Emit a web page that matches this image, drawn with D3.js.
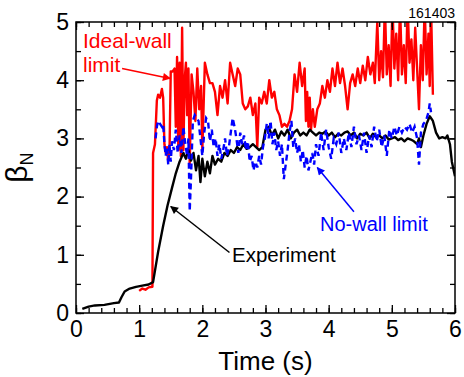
<!DOCTYPE html>
<html>
<head>
<meta charset="utf-8">
<script src="https://cdn.jsdelivr.net/npm/d3@7"></script>
<style>
  body { margin: 0; background: #fff; }
  svg { font-family: "Liberation Sans", Arial, Helvetica, sans-serif; }
</style>
</head>
<body>
<div id="chart"></div>
<script>
// ---- data ----
const expT = [0.10,0.20,0.30,0.45,0.60,0.68,0.72,0.77,0.85,0.95,1.05,1.15,1.22,1.30,1.38,1.45,1.52,1.58,1.64,1.70,1.74,1.78,1.82,1.86,1.90,1.94,1.97,2.00,2.04,2.08,2.12,2.16,2.20,2.25,2.30,2.35,2.40,2.45,2.50,2.55,2.60,2.65,2.70,2.75,2.80,2.85,2.90,2.95,3.00,3.05,3.10,3.15,3.20,3.25,3.30,3.35,3.40,3.45,3.50,3.55,3.60,3.65,3.70,3.75,3.80,3.85,3.90,3.95,4.00,4.05,4.10,4.15,4.20,4.25,4.30,4.35,4.40,4.45,4.50,4.55,4.60,4.65,4.70,4.75,4.80,4.85,4.90,4.95,5.00,5.05,5.10,5.15,5.20,5.25,5.30,5.35,5.40,5.43,5.46,5.50,5.55,5.60,5.65,5.70,5.75,5.80,5.85,5.88,5.92,5.95,5.98,6.00]
const expB = [0.07,0.11,0.13,0.14,0.17,0.18,0.27,0.37,0.42,0.45,0.47,0.49,0.53,1.05,1.50,1.85,2.15,2.40,2.60,2.75,2.65,2.80,2.62,2.75,2.45,2.70,2.25,2.65,2.35,2.60,2.40,2.70,2.55,2.65,2.60,2.75,2.70,2.80,2.75,2.85,2.80,2.90,2.82,2.85,2.90,2.85,2.80,2.85,3.15,3.20,3.05,3.15,3.00,3.12,3.05,3.15,3.00,3.10,3.15,3.05,3.10,3.05,3.15,3.10,3.05,3.10,3.08,3.12,3.05,3.10,3.02,3.08,3.05,3.10,3.12,3.05,3.10,3.00,3.08,3.05,3.10,3.00,3.08,3.02,3.05,3.00,3.05,2.98,3.00,3.02,2.97,3.00,2.95,3.00,2.98,2.95,2.90,3.00,2.85,3.05,3.25,3.38,3.30,3.10,3.00,3.02,3.00,3.05,2.90,2.60,2.45,2.35]

const idealT = [1.00,1.05,1.10,1.15,1.21,1.22,1.25,1.28,1.30,1.33,1.36,1.38,1.40,1.42,1.44,1.46,1.48,1.50,1.53,1.56,1.58,1.60,1.62,1.64,1.66,1.68,1.70,1.72,1.74,1.76,1.78,1.80,1.83,1.86,1.89,1.92,1.95,1.98,2.00,2.04,2.08,2.12,2.16,2.20,2.24,2.28,2.32,2.36,2.40,2.44,2.48,2.52,2.56,2.60,2.64,2.68,2.72,2.76,2.80,2.84,2.87,2.90,2.94,2.98,3.02,3.06,3.10,3.14,3.18,3.22,3.26,3.30,3.34,3.38,3.42,3.46,3.50,3.54,3.58,3.62,3.64,3.66,3.68,3.70,3.72,3.75,3.78,3.82,3.86,3.90,3.94,3.98,4.02,4.06,4.10,4.14,4.18,4.22,4.26,4.30,4.34,4.38,4.42,4.46,4.50,4.54,4.58,4.62,4.66,4.70,4.73,4.77,4.80,4.83,4.86,4.89,4.92,4.95,4.98,5.01,5.04,5.07,5.10,5.13,5.16,5.19,5.22,5.25,5.28,5.31,5.34,5.37,5.40,5.43,5.46,5.49,5.52,5.55,5.58,5.60,5.62,5.65]
const idealB = [0.38,0.42,0.40,0.44,0.45,2.75,2.90,3.65,3.75,3.70,3.85,3.70,2.90,2.75,2.85,2.60,2.75,4.15,4.15,4.20,3.20,4.40,2.80,4.30,2.70,4.90,2.80,4.00,4.30,3.40,4.20,2.55,4.10,3.80,3.30,4.20,3.50,3.90,2.80,4.30,4.10,3.95,3.95,3.80,3.40,3.90,3.70,4.00,3.60,4.30,4.10,3.90,4.20,4.10,3.60,3.50,3.55,3.70,3.40,3.60,2.85,3.70,3.60,3.80,3.60,4.00,3.70,3.80,3.50,3.40,3.20,3.25,3.20,3.30,3.50,4.10,3.80,4.30,3.90,4.20,3.30,3.80,3.20,3.70,3.15,3.50,3.20,3.50,3.60,3.90,3.70,4.00,3.80,4.20,3.90,4.30,3.95,4.20,3.90,3.50,3.95,4.10,3.90,4.20,3.95,4.25,4.00,4.40,4.10,4.30,3.95,5.00,4.00,4.50,4.05,5.30,4.10,4.60,3.90,5.30,4.20,4.80,4.00,5.30,4.10,4.60,3.95,5.30,4.30,4.70,4.00,4.90,4.20,3.50,4.60,4.00,5.30,4.10,4.80,3.90,5.30,3.75]

const noWallT = [1.26,1.28,1.30,1.33,1.36,1.38,1.40,1.42,1.44,1.46,1.48,1.50,1.52,1.55,1.58,1.61,1.64,1.67,1.70,1.73,1.76,1.78,1.80,1.82,1.85,1.88,1.91,1.94,1.97,2.00,2.03,2.06,2.09,2.12,2.15,2.18,2.21,2.24,2.27,2.30,2.33,2.36,2.39,2.42,2.45,2.48,2.51,2.54,2.57,2.60,2.63,2.66,2.69,2.72,2.75,2.78,2.81,2.84,2.87,2.90,2.93,2.96,2.99,3.02,3.05,3.08,3.11,3.14,3.17,3.20,3.23,3.26,3.29,3.32,3.35,3.38,3.41,3.44,3.47,3.50,3.53,3.56,3.59,3.62,3.65,3.68,3.71,3.74,3.77,3.80,3.84,3.88,3.92,3.96,4.00,4.04,4.08,4.12,4.16,4.20,4.24,4.28,4.32,4.36,4.40,4.44,4.48,4.52,4.56,4.60,4.64,4.68,4.72,4.76,4.80,4.84,4.88,4.92,4.96,5.00,5.04,5.08,5.12,5.16,5.20,5.24,5.28,5.32,5.36,5.40,5.43,5.46,5.50,5.54,5.58,5.60,5.62]
const noWallB = [3.00,3.20,3.30,3.25,3.20,3.25,2.90,2.70,2.85,2.55,2.90,2.60,2.95,2.80,3.15,2.75,3.05,2.75,3.20,2.90,2.70,3.00,1.75,2.30,3.30,3.40,3.35,3.30,3.00,2.70,3.10,3.35,3.30,2.95,3.15,2.85,3.00,2.70,2.90,2.65,2.80,3.00,2.70,2.85,3.10,3.35,3.20,3.00,2.75,3.10,2.90,3.05,2.80,2.95,2.60,2.70,2.45,2.60,2.50,2.70,2.55,2.85,3.00,3.25,3.00,3.30,2.90,3.10,2.80,2.95,2.70,2.90,2.30,2.55,2.80,3.10,3.30,2.85,3.00,2.75,2.90,2.60,2.80,2.50,2.70,2.45,2.60,2.75,2.55,2.90,2.70,3.10,2.80,3.15,2.85,2.65,3.00,2.90,3.10,2.75,3.00,2.80,3.10,2.85,3.20,2.90,3.05,2.80,3.10,2.75,3.05,2.85,3.20,2.95,3.15,2.85,3.05,2.70,3.15,3.00,3.20,3.05,3.20,3.10,3.20,3.15,3.25,3.10,3.20,3.00,2.55,3.10,3.25,3.30,3.45,3.60,3.45]

const xTicks = [0, 1, 2, 3, 4, 5, 6]
const yTicks = [0, 1, 2, 3, 4, 5]
const shotNumber = "161403"

// ---- layout ----
const W = 464, H = 377
const svg = d3.select("#chart").append("svg")
  .attr("width", W).attr("height", H)

const x = d3.scaleLinear().domain([0, 6]).range([76, 455])
const y = d3.scaleLinear().domain([0, 5]).range([313, 22])

svg.append("defs").append("clipPath").attr("id", "plotclip")
  .append("rect")
  .attr("x", x(0)).attr("y", y(5))
  .attr("width", x(6) - x(0)).attr("height", y(0) - y(5))

// arrow heads
const defs = svg.select("defs")
;[["arRed", "#ff0000"], ["arBlack", "#000"], ["arBlue", "#0000ff"]].forEach(([id, c]) => {
  defs.append("marker").attr("id", id)
    .attr("viewBox", "0 0 10 10").attr("refX", 9).attr("refY", 5)
    .attr("markerWidth", 10).attr("markerHeight", 8)
    .attr("markerUnits", "userSpaceOnUse")
    .attr("orient", "auto")
    .append("path").attr("d", "M0,0 L10,5 L0,10 z").attr("fill", c)
})

// ---- lines ----
const line = d3.line().x(d => x(d[0])).y(d => y(d[1]))
const plot = svg.append("g").attr("clip-path", "url(#plotclip)")

plot.append("path").datum(d3.zip(idealT, idealB))
  .attr("d", line).attr("fill", "none")
  .attr("stroke", "#ff0000").attr("stroke-width", 2.4).attr("stroke-linejoin", "round")

plot.append("path").datum(d3.zip(expT, expB))
  .attr("d", line).attr("fill", "none")
  .attr("stroke", "#000").attr("stroke-width", 2.4).attr("stroke-linejoin", "round")

plot.append("path").datum(d3.zip(noWallT, noWallB))
  .attr("d", line).attr("fill", "none")
  .attr("stroke", "#0000ff").attr("stroke-width", 2.4)
  .attr("stroke-dasharray", "6,4")

// ---- axes (ticks inward on all four sides) ----
const fontTick = 23
function styleAxis(g) {
  g.select(".domain").remove()
  g.selectAll(".tick line").attr("stroke", "#000").attr("stroke-width", 1.3)
  g.selectAll("text").attr("font-size", fontTick).attr("fill", "#000")
    .attr("font-family", "Liberation Sans, Arial, sans-serif")
}
const xMinor = d3.range(0, 6.001, 0.2)
const yMinor = d3.range(0, 5.001, 0.5)

svg.append("g").attr("transform", `translate(0,${y(0)})`)
  .call(d3.axisBottom(x).tickValues(xMinor).tickSize(-5).tickFormat(""))
  .call(styleAxis)
svg.append("g").attr("transform", `translate(0,${y(0)})`)
  .call(d3.axisBottom(x).tickValues(xTicks).tickSize(-8).tickPadding(8).tickFormat(d3.format("d")))
  .call(styleAxis)
svg.append("g").attr("transform", `translate(0,${y(5)})`)
  .call(d3.axisTop(x).tickValues(xMinor).tickSize(-5).tickFormat(""))
  .call(styleAxis)
svg.append("g").attr("transform", `translate(0,${y(5)})`)
  .call(d3.axisTop(x).tickValues(xTicks).tickSize(-8).tickFormat(""))
  .call(styleAxis)

svg.append("g").attr("transform", `translate(${x(0)},0)`)
  .call(d3.axisLeft(y).tickValues(yMinor).tickSize(-5).tickFormat(""))
  .call(styleAxis)
svg.append("g").attr("transform", `translate(${x(0)},0)`)
  .call(d3.axisLeft(y).tickValues(yTicks).tickSize(-8).tickPadding(7).tickFormat(d3.format("d")))
  .call(styleAxis)
svg.append("g").attr("transform", `translate(${x(6)},0)`)
  .call(d3.axisRight(y).tickValues(yMinor).tickSize(-5).tickFormat(""))
  .call(styleAxis)
svg.append("g").attr("transform", `translate(${x(6)},0)`)
  .call(d3.axisRight(y).tickValues(yTicks).tickSize(-8).tickFormat(""))
  .call(styleAxis)

// frame
svg.append("rect")
  .attr("x", x(0)).attr("y", y(5))
  .attr("width", x(6) - x(0)).attr("height", y(0) - y(5))
  .attr("fill", "none").attr("stroke", "#000").attr("stroke-width", 1.5)

// ---- axis titles ----
svg.append("text")
  .attr("x", (x(0) + x(6)) / 2).attr("y", 370)
  .attr("text-anchor", "middle").attr("font-size", 26)
  .text("Time (s)")

const yl = svg.append("text")
  .attr("transform", `translate(27,${(y(0) + y(5)) / 2}) rotate(-90)`)
  .attr("text-anchor", "middle")
yl.append("tspan").attr("font-size", 30).text("β")
yl.append("tspan").attr("font-size", 18).attr("dy", 6).text("N")

svg.append("text")
  .attr("x", x(6)).attr("y", 18)
  .attr("text-anchor", "end").attr("font-size", 14)
  .text(shotNumber)

// ---- annotations ----
svg.append("text").attr("x", 83).attr("y", 48)
  .attr("font-size", 21).attr("fill", "#ff0000").text("Ideal-wall")
svg.append("text").attr("x", 83).attr("y", 72)
  .attr("font-size", 21).attr("fill", "#ff0000").text("limit")
svg.append("line")
  .attr("x1", x(0.73)).attr("y1", y(4.2)).attr("x2", x(1.49)).attr("y2", y(4.03))
  .attr("stroke", "#ff0000").attr("stroke-width", 1.5)
  .attr("marker-end", "url(#arRed)")

svg.append("text").attr("x", 232).attr("y", 262)
  .attr("font-size", 20.5).attr("fill", "#000").text("Experiment")
svg.append("line")
  .attr("x1", x(2.43)).attr("y1", y(1.04)).attr("x2", x(1.5)).attr("y2", y(1.83))
  .attr("stroke", "#000").attr("stroke-width", 1.5)
  .attr("marker-end", "url(#arBlack)")

svg.append("text").attr("x", 320).attr("y", 231)
  .attr("font-size", 20).attr("fill", "#0000ff").text("No-wall limit")
svg.append("line")
  .attr("x1", x(4.4)).attr("y1", y(1.74)).attr("x2", x(3.82)).attr("y2", y(2.5))
  .attr("stroke", "#0000ff").attr("stroke-width", 1.5)
  .attr("marker-end", "url(#arBlue)")
</script>
</body>
</html>
